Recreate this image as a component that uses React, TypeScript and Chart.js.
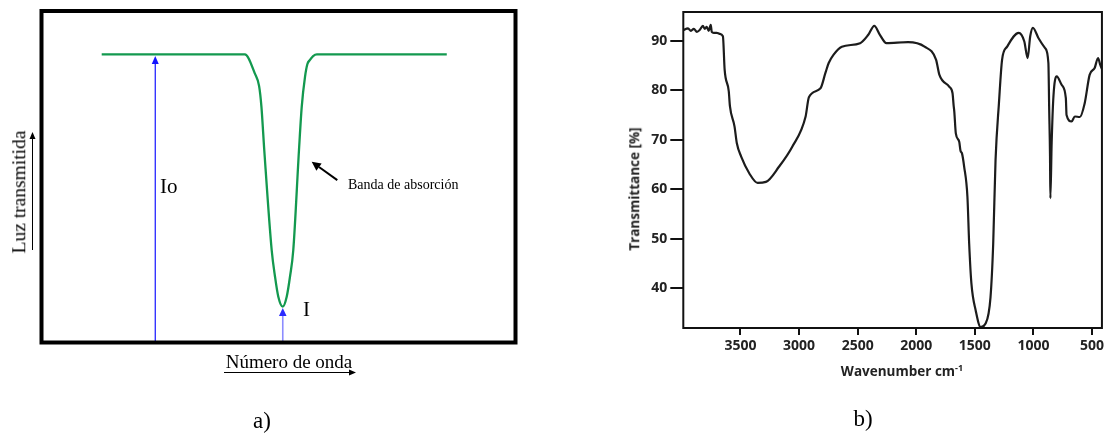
import React, { useEffect, useRef } from "react";
import { Chart, registerables } from "chart.js";

Chart.register(...registerables);

// ---------- Panel a) schematic absorption band (arbitrary units 0..100) ----------
const bandX = [12.7, 42.9, 45.0, 45.9, 46.4, 47.0, 48.56, 49.26, 49.96, 50.89, 51.73, 52.43, 53.12, 54.32, 54.9, 55.6, 56.1, 56.6, 57.3, 58.1, 85.5];
const bandY = [86.9, 86.9, 81.2, 77.4, 71.1, 58.0, 27.9, 19.9, 13.8, 10.8, 13.8, 19.9, 27.9, 58.0, 71.1, 80.2, 84.0, 85.2, 86.4, 86.9, 86.9];
// vertical arrows: Io (baseline intensity) and I (transmitted at band centre)
const arrowX = [24.0, 50.9];
const arrowTop = [86.4, 10.4];
// pointer arrow to the band
const pointerFrom = [62.4, 49.0];
const pointerTo = [57.0, 54.5];

// ---------- Panel b) FTIR spectrum ----------
const wavenumber = [3990, 3948, 3923, 3898, 3872, 3847, 3821, 3805, 3788, 3771, 3754, 3745, 3728, 3703, 3678, 3650, 3635, 3600, 3590, 3551, 3531, 3494, 3424, 3354, 3283, 3170, 3058, 2944, 2916, 2817, 2775, 2747, 2705, 2635, 2479, 2409, 2358, 2310, 2254, 2070, 1929, 1831, 1802, 1717, 1690, 1681, 1675, 1662, 1633, 1622, 1610, 1591, 1563, 1548, 1529, 1492, 1450, 1408, 1366, 1343, 1323, 1294, 1267, 1224, 1125, 1078, 1049, 1027, 1004, 956, 900, 872, 865, 858, 855, 844, 829, 801, 759, 723, 717, 674, 646, 604, 562, 520, 477, 448, 429, 410];
const transmittance = [92.1, 92.5, 92.0, 92.4, 91.8, 92.2, 93.0, 92.4, 92.8, 92.0, 93.2, 91.8, 91.6, 91.6, 91.4, 90.9, 84.1, 79.8, 76.8, 72.7, 69.3, 66.6, 63.2, 61.3, 61.5, 64.6, 68.6, 74.7, 78.6, 80.4, 83.5, 85.5, 87.2, 88.8, 89.5, 91.2, 93.0, 91.2, 89.5, 89.7, 88.8, 86.2, 83.1, 80.7, 79.4, 77.0, 75.7, 71.3, 69.6, 67.8, 67.3, 64.6, 58.5, 49.0, 41.0, 35.5, 32.2, 32.9, 38.2, 49.0, 65.9, 77.4, 86.2, 88.8, 91.6, 89.9, 86.5, 90.9, 92.6, 90.5, 88.5, 85.5, 76.0, 66.6, 58.2, 69.4, 78.7, 82.8, 81.1, 78.4, 75.0, 73.7, 74.7, 74.6, 77.4, 83.1, 84.5, 86.5, 85.1, 84.0];
const xTicks = [3500, 3000, 2500, 2000, 1500, 1000, 500];
const yTicks = [40, 50, 60, 70, 80, 90];

function drawArrow(
  ctx: CanvasRenderingContext2D,
  x1: number, y1: number, x2: number, y2: number,
  lineColor: string, headColor: string, lineWidth: number, headLen: number, headHalf: number
) {
  const ang = Math.atan2(y2 - y1, x2 - x1);
  const bx = x2 - headLen * Math.cos(ang);
  const by = y2 - headLen * Math.sin(ang);
  ctx.save();
  ctx.strokeStyle = lineColor;
  ctx.lineWidth = lineWidth;
  ctx.beginPath();
  ctx.moveTo(x1, y1);
  ctx.lineTo(bx, by);
  ctx.stroke();
  ctx.fillStyle = headColor;
  ctx.beginPath();
  ctx.moveTo(x2, y2);
  ctx.lineTo(bx + headHalf * Math.sin(ang), by - headHalf * Math.cos(ang));
  ctx.lineTo(bx - headHalf * Math.sin(ang), by + headHalf * Math.cos(ang));
  ctx.closePath();
  ctx.fill();
  ctx.restore();
}

const serif = '"Liberation Serif", "DejaVu Serif", serif';
const sans = '"Open Sans", "Noto Sans", sans-serif';

export default function App() {
  const leftRef = useRef<HTMLCanvasElement>(null);
  const rightRef = useRef<HTMLCanvasElement>(null);

  useEffect(() => {
    const leftPlugin = {
      id: "bandDecor",
      beforeDatasetsDraw(chart: any) {
        const { ctx, scales } = chart;
        const x = scales.x, y = scales.y;
        drawArrow(ctx, x.getPixelForValue(arrowX[0]), y.getPixelForValue(0), x.getPixelForValue(arrowX[0]), y.getPixelForValue(arrowTop[0]), "#1414ff", "#1414ff", 1.2, 8, 3.5);
        drawArrow(ctx, x.getPixelForValue(arrowX[1]), y.getPixelForValue(0), x.getPixelForValue(arrowX[1]), y.getPixelForValue(arrowTop[1]), "#8c8cff", "#2a2aff", 1.6, 8, 3.8);
      },
      afterDraw(chart: any) {
        const { ctx, scales, chartArea } = chart;
        const x = scales.x, y = scales.y;
        drawArrow(ctx, x.getPixelForValue(pointerFrom[0]), y.getPixelForValue(pointerFrom[1]), x.getPixelForValue(pointerTo[0]), y.getPixelForValue(pointerTo[1]), "#000", "#000", 2, 9, 4.5);
        ctx.save();
        ctx.strokeStyle = "#000";
        ctx.lineWidth = 4;
        ctx.strokeRect(chartArea.left, chartArea.top, chartArea.right - chartArea.left, chartArea.bottom - chartArea.top);
        ctx.restore();
        drawArrow(ctx, 32.5, 250, 32.5, 132, "#000", "#000", 1, 7, 3);
        drawArrow(ctx, 224, 372.5, 356, 372.5, "#000", "#000", 1, 7, 3);
      },
    };

    const left = new Chart(leftRef.current as HTMLCanvasElement, {
      type: "line",
      data: {
        datasets: [
          {
            data: bandX.map((v, i) => ({ x: v, y: bandY[i] })),
            borderColor: "#13994f",
            borderWidth: 2.3,
            pointRadius: 0,
            cubicInterpolationMode: "monotone",
            fill: false,
          },
        ],
      },
      options: {
        animation: false,
        responsive: false,
        events: [],
        layout: { padding: { left: 41.5, right: 14.5, top: 11, bottom: 91.5 } },
        scales: {
          x: { type: "linear", min: 0, max: 100, display: false },
          y: { type: "linear", min: 0, max: 100, display: false },
        },
        plugins: { legend: { display: false }, tooltip: { enabled: false } },
      },
      plugins: [leftPlugin],
    } as any);

    const framePlugin = {
      id: "frame",
      afterDraw(chart: any) {
        const { ctx, chartArea } = chart;
        ctx.save();
        ctx.strokeStyle = "#111";
        ctx.lineWidth = 2;
        ctx.strokeRect(chartArea.left, chartArea.top, chartArea.right - chartArea.left, chartArea.bottom - chartArea.top);
        ctx.restore();
      },
    };

    const tickFont = { family: sans, weight: "bold", size: 14 };
    const right = new Chart(rightRef.current as HTMLCanvasElement, {
      type: "line",
      data: {
        datasets: [
          {
            data: wavenumber.map((v, i) => ({ x: v, y: transmittance[i] })),
            borderColor: "#1c1c1c",
            borderWidth: 2.2,
            pointRadius: 0,
            cubicInterpolationMode: "monotone",
            fill: false,
          },
        ],
      },
      options: {
        animation: false,
        responsive: false,
        events: [],
        layout: { padding: { left: 0, right: 1, top: 12, bottom: 66 } },
        scales: {
          x: {
            type: "linear",
            reverse: true,
            min: 415,
            max: 3988,
            afterBuildTicks: (s: any) => {
              s.ticks = xTicks.map((v) => ({ value: v }));
            },
            afterFit: (s: any) => {
              s.height = 40;
            },
            grid: { display: true, drawOnChartArea: false, drawTicks: true, tickLength: 7, color: "#111", lineWidth: 2 },
            border: { display: false },
            ticks: { color: "#222", font: tickFont, padding: 3, maxRotation: 0, autoSkip: false, callback: (v: any) => String(v) },
          },
          y: {
            type: "linear",
            min: 32,
            max: 95.8,
            afterBuildTicks: (s: any) => {
              s.ticks = yTicks.map((v) => ({ value: v }));
            },
            afterFit: (s: any) => {
              s.width = 83.3;
            },
            grid: { display: true, drawOnChartArea: false, drawTicks: true, tickLength: 13, color: "#111", lineWidth: 2 },
            border: { display: false },
            ticks: { color: "#222", font: tickFont, padding: 3, autoSkip: false, callback: (v: any) => String(v) },
          },
        },
        plugins: { legend: { display: false }, tooltip: { enabled: false } },
      },
      plugins: [framePlugin],
    } as any);

    return () => {
      left.destroy();
      right.destroy();
    };
  }, []);

  const abs = (extra: React.CSSProperties): React.CSSProperties => ({
    position: "absolute",
    whiteSpace: "nowrap",
    lineHeight: 1,
    ...extra,
  });

  return (
    <div style={{ position: "absolute", left: 0, top: 0, width: 1107, height: 434, background: "#fff", overflow: "hidden" }}>
      <canvas ref={leftRef} width={530} height={434} style={{ position: "absolute", left: 0, top: 0, width: 530, height: 434 }} />
      <canvas ref={rightRef} width={507} height={434} style={{ position: "absolute", left: 600, top: 0, width: 507, height: 434 }} />

      {/* panel a texts */}
      <div style={abs({ left: 160, top: 186, transform: "translateY(-50%)", fontFamily: serif, fontSize: 21 })}>Io</div>
      <div style={abs({ left: 303, top: 309, transform: "translateY(-50%)", fontFamily: serif, fontSize: 21 })}>I</div>
      <div style={abs({ left: 348, top: 185, transform: "translateY(-50%)", fontFamily: serif, fontSize: 14 })}>Banda de absorción</div>
      <div style={abs({ left: 19, top: 192, transform: "translate(-50%,-50%) rotate(-90deg)", fontFamily: serif, fontSize: 19.5 })}>Luz transmitida</div>
      <div style={abs({ left: 289, top: 361, transform: "translate(-50%,-50%)", fontFamily: serif, fontSize: 19 })}>Número de onda</div>
      <div style={abs({ left: 262, top: 420, transform: "translate(-50%,-50%)", fontFamily: serif, fontSize: 23 })}>a)</div>

      {/* panel b texts */}
      <div style={abs({ left: 635, top: 189, transform: "translate(-50%,-50%) rotate(-90deg)", fontFamily: sans, fontWeight: 700, fontSize: 13.5, color: "#222" })}>Transmittance [%]</div>
      <div style={abs({ left: 902, top: 371, transform: "translate(-50%,-50%)", fontFamily: sans, fontWeight: 700, fontSize: 13.5, color: "#222" })}>
        Wavenumber cm<sup style={{ fontSize: 9, verticalAlign: "5px" }}>-1</sup>
      </div>
      <div style={abs({ left: 863, top: 418, transform: "translate(-50%,-50%)", fontFamily: serif, fontSize: 23 })}>b)</div>
    </div>
  );
}
